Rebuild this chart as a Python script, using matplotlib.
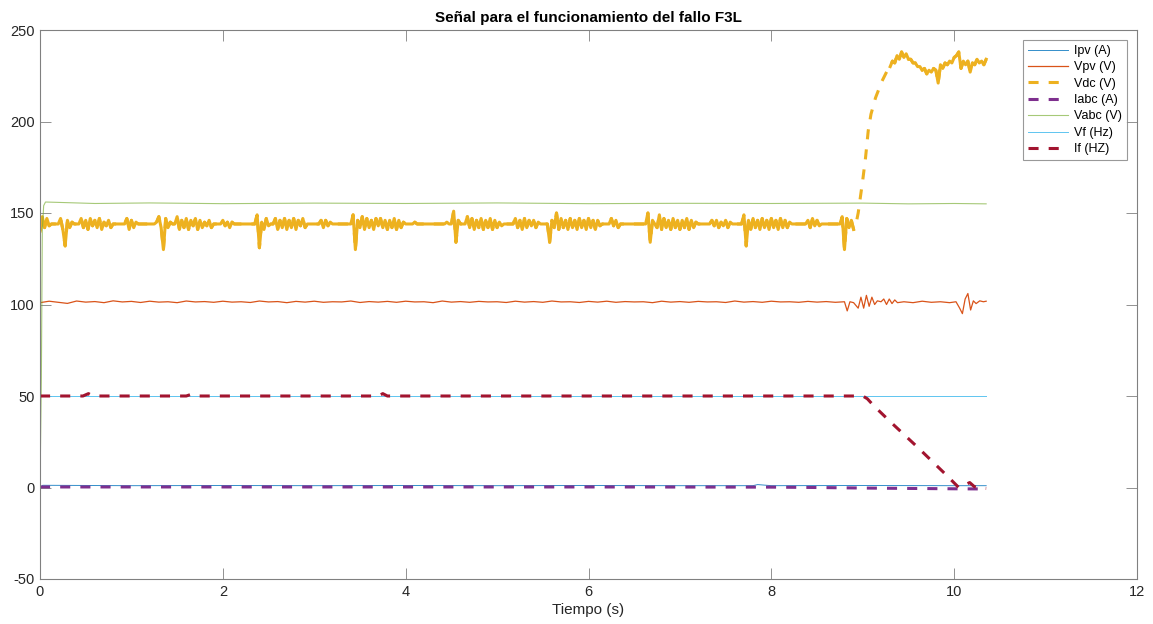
import numpy as np
import matplotlib
matplotlib.use('Agg')
import matplotlib.pyplot as plt

plt.rcParams['font.family'] = ['Liberation Sans', 'DejaVu Sans']
plt.rcParams['axes.unicode_minus'] = False

# Vdc: meseta ruidosa (una muestra cada 0.025 s desde 0 hasta 8.90 s, una fila = 0.5 s)
vdc_plateau = [
    140, 148, 142, 147, 143, 144, 144, 144, 144, 147, 141, 132, 146, 142, 145, 144, 144, 144, 147, 142,
    146, 141, 147, 143, 146, 142, 147, 141, 145, 143, 146, 142, 144, 144, 144, 144, 144, 144, 147, 141,
    146, 142, 145, 144, 144, 144, 144, 144, 144, 144, 144, 145, 148, 142, 130, 147, 142, 145, 144, 144,
    148, 141, 146, 142, 147, 141, 146, 143, 147, 141, 146, 142, 145, 143, 146, 142, 144, 144, 144, 144,
    146, 143, 145, 142, 145, 144, 144, 144, 144, 144, 144, 144, 144, 144, 144, 149, 131, 145, 141, 147,
    143, 144, 144, 147, 141, 146, 142, 147, 141, 146, 142, 147, 141, 146, 143, 147, 142, 144, 144, 144,
    144, 144, 144, 146, 142, 146, 143, 145, 144, 144, 144, 144, 144, 144, 144, 144, 144, 149, 130, 146,
    142, 148, 141, 147, 142, 146, 141, 147, 143, 147, 142, 146, 141, 146, 142, 147, 141, 146, 142, 145,
    144, 144, 144, 144, 145, 144, 144, 144, 144, 144, 144, 144, 144, 144, 144, 144, 144, 144, 145, 144,
    144, 151, 134, 146, 144, 144, 144, 148, 142, 147, 141, 146, 142, 147, 141, 146, 142, 147, 141, 146,
    142, 145, 143, 144, 144, 144, 144, 144, 147, 142, 146, 141, 147, 142, 146, 143, 146, 142, 145, 144,
    144, 144, 144, 134, 146, 142, 150, 141, 147, 142, 146, 141, 147, 142, 146, 141, 147, 142, 146, 141,
    147, 142, 146, 141, 146, 143, 144, 144, 144, 144, 147, 143, 146, 142, 144, 144, 144, 144, 144, 144,
    144, 144, 144, 144, 144, 144, 150, 134, 146, 144, 142, 149, 141, 147, 142, 146, 141, 147, 142, 146,
    141, 146, 142, 147, 141, 146, 142, 145, 144, 144, 144, 144, 144, 144, 146, 143, 146, 142, 145, 143,
    146, 142, 145, 144, 144, 144, 144, 144, 149, 132, 146, 141, 147, 142, 146, 141, 147, 142, 146, 141,
    147, 142, 146, 141, 147, 142, 146, 142, 145, 144, 144, 144, 144, 144, 144, 144, 146, 142, 147, 143,
    146, 143, 144, 144, 144, 144, 144, 144, 144, 144, 144, 148, 130, 147, 142, 146, 141,
]
t_plateau = np.arange(len(vdc_plateau)) * 0.025

# Vdc: subida tras el fallo
t_rise = [8.93, 8.95, 9.00, 9.03, 9.06, 9.09, 9.14, 9.21, 9.28]
vdc_rise = [145, 150, 168, 180, 195, 204, 213, 222, 229]

# Vdc: nivel alto (cada 0.025 s desde 9.30 s)
vdc_top = [
    230, 233, 232, 236, 234, 238, 235, 237, 234, 234, 232, 232, 230, 230, 228, 229, 226, 228, 227, 229,
    228, 221, 231, 229, 232, 231, 233, 232, 235, 236, 238, 229, 233, 231, 233, 227, 232, 231, 234, 232,
    233, 231, 234,
]
t_top = 9.30 + np.arange(len(vdc_top)) * 0.025

# Vpv (cada 0.1 s hasta 8.8 s, luego detalle)
vpv_base = [
    101.0, 101.8, 101.2, 100.6, 101.9, 101.3, 101.6, 101.0, 102.0, 101.4, 101.7, 101.1, 101.8, 101.3, 101.5,
    101.0, 101.9, 101.4, 101.6, 101.2, 101.8, 101.3, 101.5, 101.1, 101.9, 101.4, 101.6, 101.0, 101.7, 101.3,
    101.8, 101.2, 101.5, 101.4, 101.9, 101.1, 101.6, 101.3, 101.7, 101.2, 101.8, 101.4, 101.5, 101.0, 101.9,
    101.3, 101.6, 101.2, 101.7, 101.4, 101.5, 101.1, 101.8, 101.3, 101.6, 101.2, 101.9, 101.4, 101.5, 101.1,
    101.7, 101.3, 101.8, 101.2, 101.6, 101.4, 101.5, 101.0, 101.8, 101.3, 101.6, 101.2, 101.7, 101.4, 101.5,
    101.1, 101.9, 101.3, 101.6, 101.2, 101.8, 101.4, 101.5, 101.2, 101.7, 101.3, 101.6, 101.2, 101.5,
]
t_vpv_base = np.arange(len(vpv_base)) * 0.1
t_vpv_end = [8.83, 8.86, 8.90, 8.95, 8.98, 9.01, 9.04, 9.07, 9.10, 9.13, 9.16, 9.20, 9.23, 9.26, 9.29,
             9.32, 9.35, 9.38, 9.45, 9.55, 9.65, 9.75, 9.85, 9.95, 10.02, 10.06, 10.09, 10.12, 10.15,
             10.18, 10.21, 10.24, 10.28, 10.32, 10.35]
vpv_end = [96.5, 101.5, 101.0, 98.0, 104.0, 98.0, 105.0, 99.0, 104.0, 100.0, 102.0, 101.5, 103.0, 100.0,
           103.0, 100.5, 102.5, 101.0, 101.5, 101.0, 101.8, 101.2, 101.5, 101.0, 101.5, 98.0, 95.0, 103.0,
           106.0, 97.0, 102.0, 100.5, 102.0, 101.5, 101.8]

# Ipv
t_ipv = [0, 0.03, 1, 2, 3, 4, 5, 6, 7, 7.8, 7.85, 8, 9, 10, 10.35]
ipv = [0, 1.2, 1.0, 1.1, 1.0, 1.1, 1.0, 1.1, 1.0, 1.0, 1.6, 1.0, 1.1, 1.0, 1.0]

# Iabc
t_iabc = [0, 2, 4, 6, 8, 8.5, 9.0, 9.5, 10.0, 10.35]
iabc = [0.3, 0.3, 0.3, 0.3, 0.2, 0.0, -0.3, -0.5, -0.7, -0.8]

# Vabc
t_vabc = [0, 0.015, 0.025, 0.04, 0.06, 0.2, 0.6, 1.2, 2.0, 3.0, 4.0, 5.0, 6.0, 7.0, 8.0, 9.0, 9.5, 10.0, 10.35]
vabc = [0, 60, 140, 154, 156, 155.8, 155.2, 155.5, 155.1, 155.4, 155.2, 155.5, 155.1, 155.3, 155.2,
        155.4, 155.0, 155.2, 155.0]

# Vf
t_vf = [0, 10.35]
vf = [50, 50]

# If
t_if = [0, 0.47, 0.53, 0.58, 1.6, 1.66, 1.72, 3.7, 3.75, 3.8, 9.0, 9.05, 9.12, 9.3, 9.6, 9.9, 10.05,
        10.12, 10.17, 10.22, 10.28, 10.35]
i_f = [50, 50, 51.3, 50, 50, 51, 50, 50, 51.3, 50, 50, 48.5, 44.7, 36, 22, 7.5, 0, 1.5, 2.7, 0.5, -0.3, -0.5]

colors = ['#0072BD', '#D95319', '#EDB120', '#7E2F8E', '#77AC30', '#4DBEEE', '#A2142F']
dash = (3.3, 3.3)

fig = plt.figure(figsize=(11.53, 6.24), dpi=100)
ax = fig.add_axes([40 / 1153, 1 - 579 / 624, 1097 / 1153, 549 / 624])

ax.plot(t_ipv, ipv, color=colors[0], lw=0.7, alpha=0.8, label='Ipv (A)')
ax.plot(list(t_vpv_base) + t_vpv_end, vpv_base + vpv_end, color=colors[1], lw=0.9, label='Vpv (V)')

t_vdc = list(t_plateau) + t_rise + list(t_top)
vdc = vdc_plateau + vdc_rise + vdc_top
ax.plot(t_vdc, vdc, color=colors[2], lw=2.2, ls='--', dashes=dash, label='Vdc (V)')
# el ruido tapa los huecos del trazo en los tramos estables
ax.plot(t_plateau, vdc_plateau, color=colors[2], lw=2.2)
ax.plot(t_top, vdc_top, color=colors[2], lw=2.2)

ax.plot(t_iabc, iabc, color=colors[3], lw=2.2, ls='--', dashes=dash, label='Iabc (A)')
ax.plot(t_vabc, vabc, color=colors[4], lw=0.8, alpha=0.65, label='Vabc (V)')
ax.plot(t_vf, vf, color=colors[5], lw=0.7, alpha=0.9, label='Vf (Hz)')
ax.plot(t_if, i_f, color=colors[6], lw=2.2, ls='--', dashes=dash, label='If (HZ)')

ax.set_xlim(0, 12)
ax.set_ylim(-50, 250)
ax.set_xticks(range(0, 13, 2))
ax.set_yticks(range(-50, 251, 50))
ax.tick_params(direction='in', length=8, width=0.6, color='#808080', labelsize=10.5,
               labelcolor='#262626', top=True, right=True, pad=4)
for s in ax.spines.values():
    s.set_color('#808080')
    s.set_linewidth(0.8)

ax.set_title('Señal para el funcionamiento del fallo F3L', fontsize=11, fontweight='bold',
             color='#000000', pad=6)
ax.set_xlabel('Tiempo (s)', fontsize=11, color='#262626', labelpad=3)

leg = ax.legend(loc='upper right', fontsize=9, frameon=True, fancybox=False, borderaxespad=0.8,
                labelspacing=0.35, handlelength=3.2, handletextpad=0.5, borderpad=0.4)
leg.get_frame().set_edgecolor('#808080')
leg.get_frame().set_linewidth(0.8)

fig.savefig('out.png', dpi=100)
